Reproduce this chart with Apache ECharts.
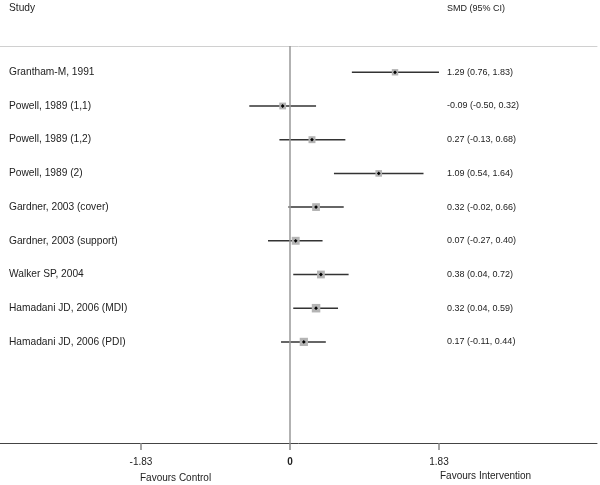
<!DOCTYPE html>
<html>
<head>
<meta charset="utf-8">
<script src="https://cdn.jsdelivr.net/npm/echarts@6/dist/echarts.min.js"></script>
<style>html,body{margin:0;padding:0;background:#fff;}#c{width:600px;height:485px;}</style>
</head>
<body>
<div id="c"></div>
<script>
const studies = [
  'Grantham-M, 1991',
  'Powell, 1989 (1,1)',
  'Powell, 1989 (1,2)',
  'Powell, 1989 (2)',
  'Gardner, 2003 (cover)',
  'Gardner, 2003 (support)',
  'Walker SP, 2004',
  'Hamadani JD, 2006 (MDI)',
  'Hamadani JD, 2006 (PDI)'
];
const smd    = [1.29, -0.09, 0.27, 1.09, 0.32, 0.07, 0.38, 0.32, 0.17];
const ciLow  = [0.76, -0.50, -0.13, 0.54, -0.02, -0.27, 0.04, 0.04, -0.11];
const ciHigh = [1.83, 0.32, 0.68, 1.64, 0.66, 0.40, 0.72, 0.59, 0.44];
const weights = [8.5, 9.5, 10, 9, 12.5, 13, 12.5, 15, 14];
const xTicks = [-1.83, 0, 1.83];
const headerLeft = 'Study';
const headerRight = 'SMD (95% CI)';
const favourLeft = 'Favours Control';
const favourRight = 'Favours Intervention';

const FONT = "'Liberation Sans', Arial, sans-serif";
const fmt = v => v.toFixed(2);

const data = studies.map((s, i) => [ciLow[i], ciHigh[i], smd[i], i, weights[i]]);

function renderItem(params, api) {
  const idx = api.value(3);
  const pLo = api.coord([api.value(0), idx]);
  const pHi = api.coord([api.value(1), idx]);
  const pE = api.coord([api.value(2), idx]);
  const y = pE[1];
  const s = 2.2 * Math.sqrt(api.value(4));
  const d = 1.9;
  const label = fmt(smd[idx]) + ' (' + fmt(ciLow[idx]) + ', ' + fmt(ciHigh[idx]) + ')';
  return {
    type: 'group',
    children: [
      {type: 'line', shape: {x1: pLo[0], y1: y, x2: pHi[0], y2: y}, style: {stroke: '#333', lineWidth: 1.5}},
      {type: 'rect', shape: {x: pE[0] - s / 2, y: y - s / 2, width: s, height: s}, style: {fill: '#b4b4b4'}},
      {type: 'polygon', shape: {points: [[pE[0], y - d], [pE[0] + d, y], [pE[0], y + d], [pE[0] - d, y]]}, style: {fill: '#000'}},
      {type: 'text', style: {x: 9, y: y, text: studies[idx], font: '10.2px ' + FONT, fill: '#222', verticalAlign: 'middle', align: 'left'}},
      {type: 'text', style: {x: 447, y: y, text: label, font: '9px ' + FONT, fill: '#222', verticalAlign: 'middle', align: 'left'}}
    ]
  };
}

const chart = echarts.init(document.getElementById('c'), null, {renderer: 'canvas'});
const XMIN = -3.562, XMAX = 3.771;
chart.setOption({
  animation: false,
  backgroundColor: '#fff',
  grid: {left: 0, right: 3, top: 46, bottom: 42, containLabel: false},
  xAxis: [
    {
      type: 'value', min: XMIN, max: XMAX, position: 'bottom',
      axisLine: {show: true, onZero: false, lineStyle: {color: '#444', width: 1}},
      axisTick: {show: true, customValues: xTicks, length: 7, lineStyle: {color: '#888', width: 1.5}},
      axisLabel: {
        show: true, customValues: xTicks, margin: 14, fontSize: 10, fontFamily: FONT, color: '#222',
        formatter: v => (Math.abs(v) < 1e-9 ? '{b|0}' : String(v)),
        rich: {b: {fontWeight: 'bold', fontSize: 10, fontFamily: FONT, color: '#222'}}
      },
      splitLine: {show: false}
    },
    {
      type: 'value', min: XMIN, max: XMAX, position: 'top',
      axisLine: {show: true, onZero: false, lineStyle: {color: '#d0d0d0', width: 1}},
      axisTick: {show: false}, axisLabel: {show: false}, splitLine: {show: false}
    }
  ],
  yAxis: {type: 'value', inverse: true, min: -0.78, max: 11, show: false},
  graphic: [
    {type: 'text', left: 9, top: 3, style: {text: headerLeft, font: '10.2px ' + FONT, fill: '#222'}},
    {type: 'text', left: 447, top: 4, style: {text: headerRight, font: '9px ' + FONT, fill: '#222'}},
    {type: 'text', left: 140, top: 473, style: {text: favourLeft, font: '10px ' + FONT, fill: '#222'}},
    {type: 'text', left: 440, top: 471, style: {text: favourRight, font: '10px ' + FONT, fill: '#222'}}
  ],
  series: [{
    type: 'custom',
    renderItem: renderItem,
    encode: {x: [0, 1, 2], y: 3},
    data: data,
    silent: true,
    markLine: {
      silent: true, symbol: 'none', label: {show: false},
      lineStyle: {color: '#999', width: 1.5, type: 'solid'},
      data: [{xAxis: 0}]
    }
  }]
});
</script>
</body>
</html>
